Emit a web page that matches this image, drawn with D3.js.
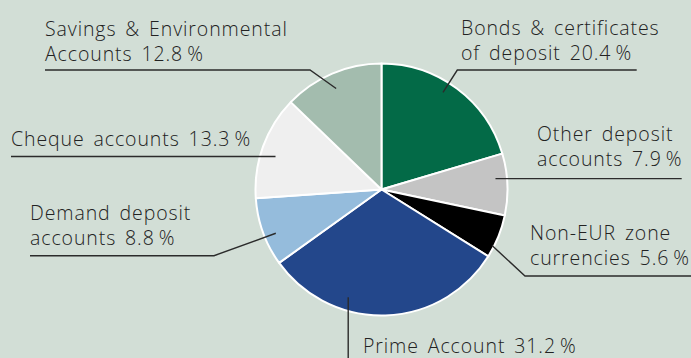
<!DOCTYPE html>
<html><head><meta charset="utf-8">
<script src="https://cdn.jsdelivr.net/npm/d3@7"></script>
<style>
html,body{margin:0;padding:0;background:#d2ded6;}
svg{display:block;}
text{font-family:"Open Sans",sans-serif;font-weight:300;fill:#222;}
</style></head><body>
<svg id="chart" width="691" height="358"></svg>
<script>
// ---- data ----
const categories = ["Bonds & certificates of deposit","Other deposit accounts","Non-EUR zone currencies","Prime Account","Demand deposit accounts","Cheque accounts","Savings & Environmental Accounts"];
const values = [20.4, 7.9, 5.6, 31.2, 8.8, 13.3, 12.8];
const labelLines = [
  ["Bonds & certificates","of deposit 20.4\u2009%"],
  ["Other deposit","accounts 7.9\u2009%"],
  ["Non-EUR zone","currencies 5.6\u2009%"],
  ["Prime Account 31.2\u2009%"],
  ["Demand deposit","accounts 8.8\u2009%"],
  ["Cheque accounts 13.3\u2009%"],
  ["Savings & Environmental","Accounts 12.8\u2009%"]
];
const colors = ["#036a47","#c4c4c4","#000000","#23478b","#95bcdc","#efefef","#a3bcae"];

// ---- layout (annotation placement) ----
const W = 691, H = 358, cx = 381.5, cy = 189.5, R = 126;
const labelLayout = [
  {x:461, y:35, t:0.44, r:115, pts:[[457.3,70],[636.7,70]]},
  {x:537, y:141, t:0.39, r:114.5, pts:[[681.7,null]]},
  {x:530, y:240, t:0.745, r:124, pts:[[525,276],[691,276]]},
  {x:363, y:353, t:0.669, r:112.7, pts:[[null,358]]},
  {x:30, y:220, t:0.415, r:114.4, pts:[[214,255.7],[30,255.7]]},
  {x:11, y:146, t:0.444, r:111, pts:[[11,null]]},
  {x:45, y:36, t:0.475, r:110.7, pts:[[310,70],[45,70]]}
];

const svg = d3.select("#chart");
const g = svg.append("g").attr("transform", `translate(${cx},${cy})`);
const pie = d3.pie().sort(null).value(d => d).startAngle(0).endAngle(2*Math.PI);
const arcs = pie(values);
const arc = d3.arc().innerRadius(0).outerRadius(R);

g.selectAll("path.slice").data(arcs).enter().append("path")
  .attr("class","slice")
  .attr("d", arc)
  .attr("fill", (d,i) => colors[i])
  .attr("stroke", "#ffffff")
  .attr("stroke-width", 2)
  .attr("stroke-linejoin","round");

// leader lines + labels
const line = d3.line();
arcs.forEach((a,i) => {
  const L = labelLayout[i];
  const ang = a.startAngle + L.t*(a.endAngle - a.startAngle);
  const sx = cx + Math.sin(ang)*L.r, sy = cy - Math.cos(ang)*L.r;
  const pts = [[sx,sy]];
  L.pts.forEach(p => {
    const prev = pts[pts.length-1];
    pts.push([p[0]===null?prev[0]:p[0], p[1]===null?prev[1]:p[1]]);
  });
  svg.append("path").attr("d", line(pts)).attr("fill","none")
    .attr("stroke","#2b2b2b").attr("stroke-width",1.4);
  const t = svg.append("text").attr("x",L.x).attr("y",L.y)
    .attr("font-size",19.5).attr("letter-spacing",0.9).attr("word-spacing",3);
  labelLines[i].forEach((s,k) => {
    t.append("tspan").attr("x",L.x).attr("dy", k===0?0:24.5).text(s);
  });
});
</script>
</body></html>
